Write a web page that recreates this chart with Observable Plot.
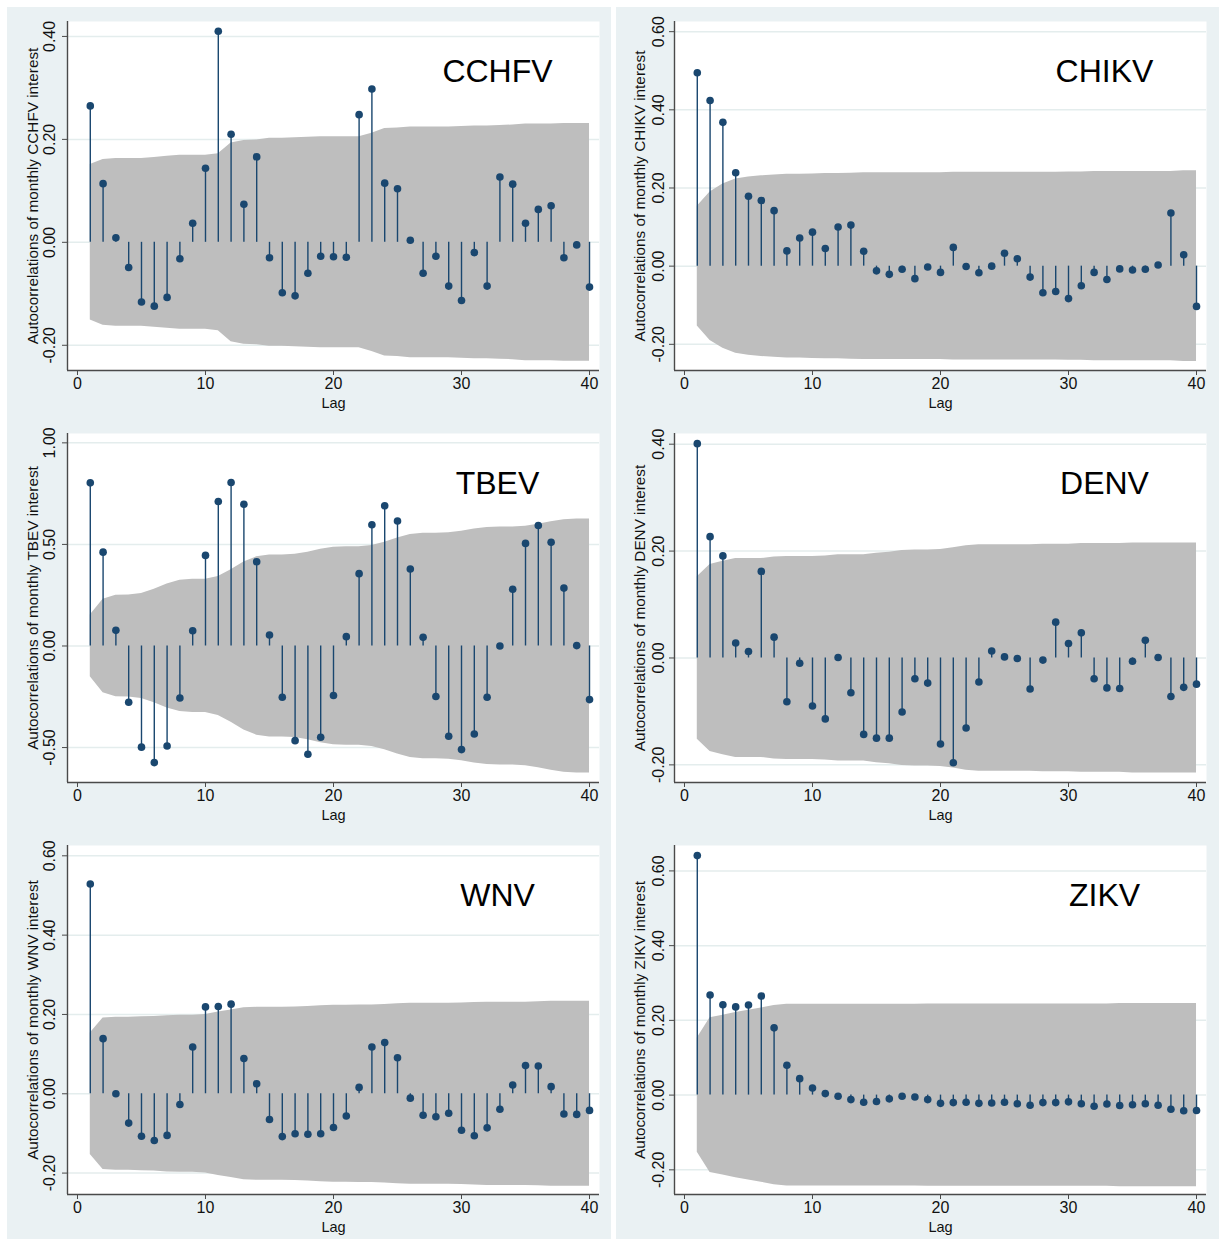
<!DOCTYPE html>
<html><head><meta charset="utf-8">
<script src="https://cdn.jsdelivr.net/npm/d3@7"></script>
<script src="https://cdn.jsdelivr.net/npm/@observablehq/plot@0.6"></script>
<style>
html,body{margin:0;padding:0;background:#fff;overflow:hidden;width:1221px;height:1239px}
#wrap{position:relative;width:1221px;height:1239px}
.panel{position:absolute;background:#eaf1f3;overflow:hidden}
.panel svg{display:block}
</style></head><body><div id="wrap"></div>
<script>
const lags = [1,2,3,4,5,6,7,8,9,10,11,12,13,14,15,16,17,18,19,20,21,22,23,24,25,26,27,28,29,30,31,32,33,34,35,36,37,38,39,40];
const xTicks = [0, 10, 20, 30, 40];

const cchfvAcf = [0.265,0.114,0.009,-0.049,-0.116,-0.124,-0.107,-0.032,0.037,0.144,0.410,0.210,0.074,0.166,-0.030,-0.098,-0.104,-0.060,-0.027,-0.028,-0.029,0.248,0.298,0.115,0.104,0.004,-0.060,-0.027,-0.085,-0.113,-0.020,-0.085,0.127,0.113,0.037,0.064,0.071,-0.030,-0.005,-0.087];
const cchfvBand = [0.151,0.161,0.163,0.163,0.163,0.165,0.167,0.169,0.169,0.169,0.172,0.193,0.198,0.199,0.202,0.202,0.203,0.204,0.205,0.205,0.205,0.205,0.212,0.221,0.222,0.224,0.224,0.224,0.224,0.225,0.226,0.226,0.227,0.228,0.230,0.230,0.230,0.231,0.231,0.231];

const chikvAcf = [0.495,0.424,0.368,0.239,0.179,0.168,0.142,0.039,0.072,0.087,0.045,0.100,0.105,0.038,-0.012,-0.021,-0.008,-0.032,-0.002,-0.016,0.048,-0.001,-0.017,0.000,0.033,0.019,-0.028,-0.068,-0.065,-0.083,-0.050,-0.016,-0.034,-0.007,-0.010,-0.008,0.003,0.136,0.029,-0.103];
const chikvBand = [0.153,0.190,0.210,0.223,0.228,0.231,0.233,0.235,0.235,0.236,0.237,0.237,0.238,0.239,0.239,0.239,0.239,0.239,0.239,0.239,0.240,0.240,0.240,0.240,0.240,0.240,0.240,0.240,0.240,0.241,0.241,0.242,0.242,0.242,0.242,0.242,0.242,0.242,0.244,0.244];

const tbevAcf = [0.803,0.462,0.077,-0.277,-0.498,-0.574,-0.492,-0.256,0.075,0.446,0.711,0.805,0.698,0.415,0.054,-0.252,-0.466,-0.533,-0.449,-0.244,0.046,0.356,0.597,0.690,0.615,0.379,0.043,-0.249,-0.444,-0.510,-0.433,-0.252,0.000,0.279,0.505,0.593,0.511,0.285,0.002,-0.264];
const tbevBand = [0.152,0.230,0.250,0.251,0.258,0.279,0.305,0.323,0.328,0.328,0.342,0.375,0.413,0.439,0.448,0.448,0.451,0.462,0.476,0.486,0.489,0.489,0.495,0.511,0.532,0.549,0.555,0.555,0.557,0.565,0.576,0.583,0.586,0.586,0.589,0.599,0.612,0.622,0.625,0.625];

const denvAcf = [0.401,0.227,0.191,0.028,0.012,0.162,0.039,-0.082,-0.010,-0.090,-0.114,0.001,-0.065,-0.143,-0.150,-0.150,-0.101,-0.039,-0.047,-0.161,-0.196,-0.131,-0.045,0.013,0.002,-0.001,-0.058,-0.004,0.067,0.027,0.047,-0.039,-0.056,-0.057,-0.006,0.033,0.001,-0.072,-0.055,-0.049];
const denvBand = [0.152,0.175,0.181,0.186,0.186,0.186,0.189,0.190,0.190,0.190,0.191,0.193,0.193,0.193,0.196,0.198,0.201,0.202,0.202,0.203,0.206,0.210,0.212,0.212,0.212,0.212,0.212,0.213,0.213,0.213,0.214,0.214,0.214,0.214,0.215,0.215,0.215,0.215,0.215,0.215];

const wnvAcf = [0.529,0.139,0.000,-0.074,-0.107,-0.118,-0.105,-0.027,0.118,0.219,0.220,0.226,0.089,0.025,-0.065,-0.108,-0.101,-0.102,-0.101,-0.085,-0.056,0.016,0.118,0.129,0.091,-0.011,-0.054,-0.058,-0.049,-0.092,-0.106,-0.086,-0.039,0.022,0.071,0.070,0.018,-0.051,-0.052,-0.042];
const wnvBand = [0.153,0.191,0.193,0.193,0.194,0.195,0.197,0.198,0.198,0.200,0.206,0.211,0.217,0.218,0.218,0.218,0.219,0.220,0.222,0.223,0.223,0.224,0.224,0.225,0.227,0.228,0.228,0.228,0.228,0.229,0.230,0.231,0.231,0.231,0.231,0.232,0.233,0.233,0.233,0.233];

const zikvAcf = [0.641,0.268,0.242,0.236,0.241,0.265,0.180,0.080,0.044,0.019,0.004,-0.003,-0.012,-0.019,-0.017,-0.010,-0.003,-0.005,-0.012,-0.022,-0.020,-0.019,-0.022,-0.021,-0.019,-0.023,-0.027,-0.020,-0.020,-0.018,-0.023,-0.030,-0.024,-0.028,-0.026,-0.023,-0.027,-0.038,-0.042,-0.041];
const zikvBand = [0.153,0.207,0.214,0.221,0.227,0.233,0.240,0.243,0.243,0.243,0.243,0.243,0.243,0.243,0.243,0.243,0.243,0.243,0.244,0.244,0.244,0.244,0.244,0.244,0.244,0.244,0.244,0.244,0.244,0.244,0.244,0.244,0.244,0.245,0.245,0.245,0.245,0.245,0.245,0.245];

const ticks02 = [-0.2, 0, 0.2, 0.4];
const labels02 = ["-0.20", "0.00", "0.20", "0.40"];
const ticks06 = [-0.2, 0, 0.2, 0.4, 0.6];
const labels06 = ["-0.20", "0.00", "0.20", "0.40", "0.60"];
const ticks05 = [-0.5, 0, 0.5, 1.0];
const labels05 = ["-0.50", "0.00", "0.50", "1.00"];

const NAVY = "#1a476f", BAND = "#bebebe", GRID = "#e4eded", AXIS = "#4a4a4a";

const panels = [
  {name: "CCHFV", acf: cchfvAcf, band: cchfvBand, yDomain: [-0.249, 0.429], yTicks: ticks02, yLabels: labels02, left: 7, top: 7, width: 604, mL: 60, mR: 12, tdx: -13},
  {name: "CHIKV", acf: chikvAcf, band: chikvBand, yDomain: [-0.267, 0.626], yTicks: ticks06, yLabels: labels06, left: 616, top: 7, width: 603, mL: 58, mR: 13, tdx: -11},
  {name: "TBEV", acf: tbevAcf, band: tbevBand, yDomain: [-0.672, 1.046], yTicks: ticks05, yLabels: labels05, left: 7, top: 419, width: 604, mL: 60, mR: 12, tdx: -13},
  {name: "DENV", acf: denvAcf, band: denvBand, yDomain: [-0.233, 0.420], yTicks: ticks02, yLabels: labels02, left: 616, top: 419, width: 603, mL: 58, mR: 13, tdx: -11},
  {name: "WNV", acf: wnvAcf, band: wnvBand, yDomain: [-0.254, 0.626], yTicks: ticks06, yLabels: labels06, left: 7, top: 831, width: 604, mL: 60, mR: 12, tdx: -13},
  {name: "ZIKV", acf: zikvAcf, band: zikvBand, yDomain: [-0.266, 0.668], yTicks: ticks06, yLabels: labels06, left: 616, top: 831, width: 603, mL: 58, mR: 13, tdx: -11}
];

const xDomain = [-0.78, 40.78];
const FONT = "'Liberation Sans', Arial, Helvetica, sans-serif";
const wrap = document.getElementById("wrap");

for (const p of panels) {
  const data = lags.map((lag, i) => ({lag, r: p.acf[i], b: p.band[i]}));
  const tickData = p.yTicks.map((v, i) => ({v, label: p.yLabels[i]}));
  const yTitle = `Autocorrelations of monthly ${p.name} interest`;
  const chart = Plot.plot({
    width: p.width, height: 412,
    marginLeft: p.mL, marginRight: p.mR, marginTop: 14, marginBottom: 49,
    style: {background: "transparent", fontFamily: FONT, overflow: "visible", color: "#111"},
    x: {domain: xDomain},
    y: {domain: p.yDomain},
    marks: [
      Plot.frame({fill: "white", stroke: null}),
      Plot.ruleY(p.yTicks, {stroke: GRID, strokeWidth: 1.5}),
      Plot.areaY(data, {x: "lag", y1: d => -d.b, y2: "b", fill: BAND}),
      Plot.ruleX(data, {x: "lag", y1: 0, y2: "r", stroke: NAVY, strokeWidth: 1.4}),
      Plot.dot(data, {x: "lag", y: "r", r: 3.8, fill: NAVY, stroke: null}),
      Plot.ruleX([xDomain[0]], {stroke: AXIS, strokeWidth: 1.4}),
      Plot.ruleY([p.yDomain[0]], {stroke: AXIS, strokeWidth: 1.4}),
      Plot.axisX(xTicks, {tickSize: 5, tickPadding: 2, fontSize: 16, label: null, stroke: AXIS, fill: "#111"}),
      Plot.axisY(p.yTicks, {tickSize: 5, tickFormat: () => "", label: null, stroke: AXIS}),
      Plot.text(tickData, {y: "v", text: "label", frameAnchor: "left", dx: p.tdx, rotate: -90, lineAnchor: "bottom", textAnchor: "middle", fontSize: 16, fill: "#111"}),
      Plot.text([yTitle], {text: d => d, frameAnchor: "left", dx: -40, rotate: -90, lineAnchor: "top", textAnchor: "middle", fontSize: 15.3, fill: "#111"}),
      Plot.text(["Lag"], {text: d => d, frameAnchor: "bottom", dy: 37, lineAnchor: "bottom", fontSize: 14.5, fill: "#111"}),
      Plot.text([p.name], {text: d => d, frameAnchor: "top-left", dx: 430, dy: 60, lineAnchor: "bottom", textAnchor: "middle", fontSize: 32, fill: "#000"})
    ]
  });
  const div = document.createElement("div");
  div.className = "panel";
  div.style.left = p.left + "px";
  div.style.top = p.top + "px";
  div.style.width = p.width + "px";
  div.style.height = "412px";
  div.appendChild(chart);
  wrap.appendChild(div);
}
</script>
</body></html>
